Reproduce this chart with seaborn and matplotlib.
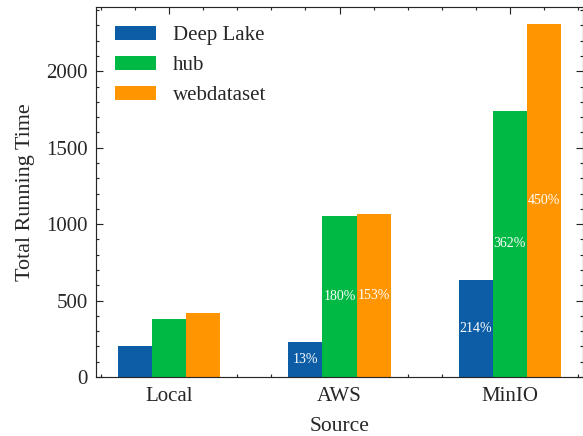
import numpy as np
import pandas as pd

import seaborn as sns
import matplotlib.pyplot as plt
from matplotlib.ticker import AutoMinorLocator

sources = ['Local', 'AWS', 'MinIO']
libraries = ['Deep Lake', 'hub', 'webdataset']

deeplake = [202, 228, 634]
hub = [377, 1056, 1741]
webdataset = [420, 1063, 2310]

# increase vs. local, printed inside the bars
deeplake_pct = ['', '13%', '214%']
hub_pct = ['', '180%', '362%']
webdataset_pct = ['', '153%', '450%']

colors = ['#0C5DA5', '#00B945', '#FF9500']

data = pd.DataFrame({
    'Source': sources * 3,
    'Library': [l for l in libraries for _ in sources],
    'Time': deeplake + hub + webdataset,
})

sns.set_style('ticks')
plt.rcParams['font.family'] = ['Liberation Serif', 'DejaVu Serif']
plt.rcParams['font.size'] = 9
plt.rcParams['axes.linewidth'] = 0.5
for a in ['xtick', 'ytick']:
    plt.rcParams[a + '.direction'] = 'in'
    plt.rcParams[a + '.major.size'] = 3
    plt.rcParams[a + '.minor.size'] = 1.5
    plt.rcParams[a + '.major.width'] = 0.5
    plt.rcParams[a + '.minor.width'] = 0.5
    plt.rcParams[a + '.labelsize'] = 9
plt.rcParams['xtick.major.pad'] = 4.5
plt.rcParams['xtick.top'] = True
plt.rcParams['ytick.right'] = True

dpi = 166.57
fig = plt.figure(figsize=(583 / dpi, 436 / dpi), dpi=dpi)
ax = fig.add_axes([96 / 583, 1 - 377 / 436, 487 / 583, 370 / 436])

sns.barplot(data=data, x='Source', y='Time', hue='Library', palette=colors,
            width=0.6, saturation=1, linewidth=0, errorbar=None, ax=ax)

for cont, labs in zip(ax.containers, [deeplake_pct, hub_pct, webdataset_pct]):
    ax.bar_label(cont, labels=labs, label_type='center', color='white', fontsize=6)

ax.set_xlim(-0.43, 2.43)
ax.set_ylim(0, 2420)
ax.xaxis.set_minor_locator(AutoMinorLocator(5))
ax.yaxis.set_minor_locator(AutoMinorLocator(5))
ax.tick_params(which='both', top=True, right=True, direction='in')
ax.set_xlabel('Source', fontsize=9.3, labelpad=4.5)
ax.set_ylabel('Total Running Time', fontsize=9.6, labelpad=5)

handles, labels = ax.get_legend_handles_labels()
ax.legend(handles, labels, loc='upper left', frameon=False, fontsize=9)

plt.savefig('out.png', dpi=dpi)
